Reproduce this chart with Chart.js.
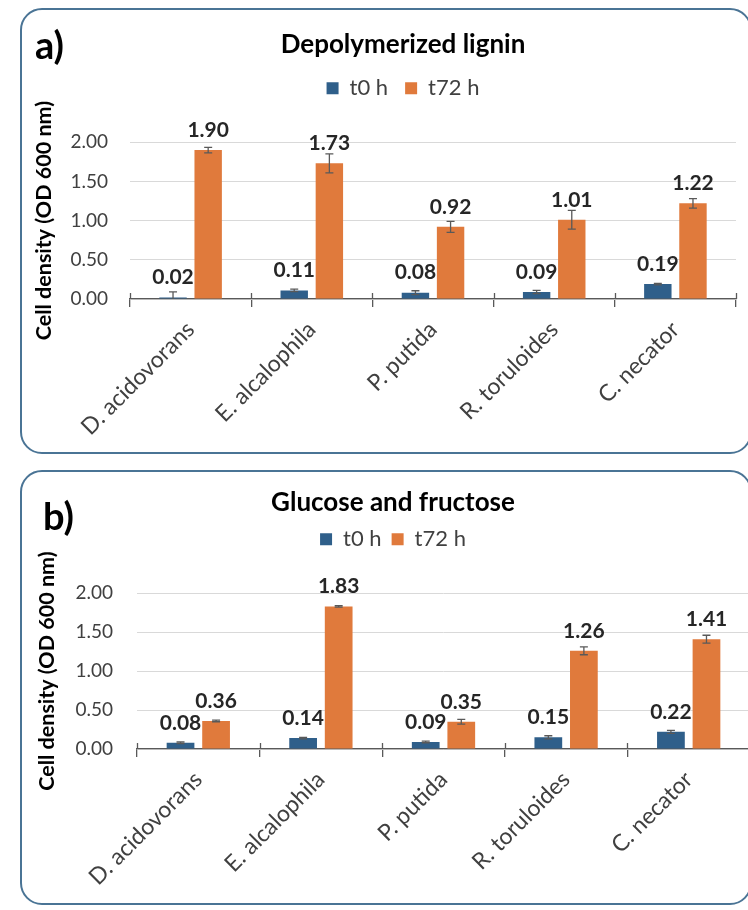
<!DOCTYPE html>
<html>
<head>
<meta charset="utf-8">
<script src="https://cdn.jsdelivr.net/npm/chart.js@4.4.0/dist/chart.umd.min.js"></script>
<style>
  body { margin: 0; width: 748px; height: 910px; overflow: hidden; background: #fff; font-family: Lato, sans-serif; }
  .panel { position: absolute; left: 20px; width: 732px; box-sizing: border-box; border: 2px solid #4a7495; border-radius: 22px; overflow: hidden; background: #fff; }
  #panel-a { top: 8px; height: 446px; }
  #panel-b { top: 470px; height: 435px; }
  .tag { position: absolute; font: bold 38px Lato, sans-serif; color: #000; line-height: 1; }
  canvas { position: absolute; left: 0; top: 0; }
</style>
</head>
<body>
<div class="panel" id="panel-a">
  <canvas id="chart-a" width="762" height="442"></canvas>
  <div class="tag" style="left:13px;top:15px">a)</div>
</div>
<div class="panel" id="panel-b">
  <canvas id="chart-b" width="742" height="431"></canvas>
  <div class="tag" style="left:21px;top:24px">b)</div>
</div>
<script>
// Cell density (OD 600 nm)
const species = ['D. acidovorans', 'E. alcalophila', 'P. putida', 'R. toruloides', 'C. necator'];
const seriesNames = ['t0 h', 't72 h'];
const ligninT0 = [0.02, 0.11, 0.08, 0.09, 0.19];
const ligninT72 = [1.90, 1.73, 0.92, 1.01, 1.22];
const ligninErrT0 = [0.07, 0.015, 0.025, 0.02, 0.01];
const ligninErrT72 = [0.035, 0.12, 0.07, 0.12, 0.06];
const sugarT0 = [0.08, 0.14, 0.09, 0.15, 0.22];
const sugarT72 = [0.36, 1.83, 0.35, 1.26, 1.41];
const sugarErrT0 = [0.01, 0.01, 0.01, 0.02, 0.02];
const sugarErrT72 = [0.01, 0.01, 0.03, 0.05, 0.05];
const yTicks = [0, 0.5, 1.0, 1.5, 2.0];

const BLUE = '#2f5f8a';
const ORANGE = '#e07a3c';
const AXIS = '#595959';

Chart.defaults.font.family = 'Lato';

// error bars, value labels and the half of each category tick above the axis
const barExtras = {
    id: 'barExtras',
    afterDatasetsDraw(chart, args, opts) {
        const { ctx, chartArea, scales: { x, y } } = chart;
        ctx.save();
        ctx.strokeStyle = AXIS;
        ctx.lineWidth = 1.3;
        for (let i = 0; i <= chart.data.labels.length; i++) {
            const px = Math.round(x.getPixelForValue(i - 0.5)) + 0.5;
            ctx.beginPath();
            ctx.moveTo(px, chartArea.bottom - 6);
            ctx.lineTo(px, chartArea.bottom);
            ctx.stroke();
        }
        chart.data.datasets.forEach((ds, d) => {
            const meta = chart.getDatasetMeta(d);
            meta.data.forEach((bar, i) => {
                const v = ds.data[i];
                const e = opts.errors[d][i];
                const yTop = y.getPixelForValue(v + e);
                const yBot = y.getPixelForValue(Math.max(0, v - e));
                ctx.strokeStyle = AXIS;
                ctx.lineWidth = 1.3;
                ctx.beginPath();
                ctx.moveTo(bar.x, yTop);
                ctx.lineTo(bar.x, yBot);
                ctx.moveTo(bar.x - 4, yTop);
                ctx.lineTo(bar.x + 4, yTop);
                if (v - e > 0) {
                    ctx.moveTo(bar.x - 4, yBot);
                    ctx.lineTo(bar.x + 4, yBot);
                }
                ctx.stroke();
                ctx.fillStyle = '#262626';
                ctx.font = 'bold 21px Lato';
                ctx.textAlign = 'center';
                ctx.textBaseline = 'middle';
                ctx.fillText(v.toFixed(2), bar.x, bar.y - 20);
            });
        });
        ctx.restore();
    }
};

function legendHeight(h) {
    return {
        id: 'legendHeight',
        beforeInit(chart) {
            const fit = chart.legend.fit;
            chart.legend.fit = function () {
                fit.call(this);
                this.height = h;
            };
        }
    };
}

function makeChart(id, title, t0, t72, err0, err72, lay) {
    return new Chart(document.getElementById(id), {
        type: 'bar',
        data: {
            labels: species,
            datasets: [
                { label: seriesNames[0], data: t0, backgroundColor: BLUE },
                { label: seriesNames[1], data: t72, backgroundColor: ORANGE },
            ],
        },
        options: {
            responsive: false,
            animation: false,
            devicePixelRatio: 1,
            datasets: { bar: { categoryPercentage: 0.58, barPercentage: 0.78 } },
            plugins: {
                title: {
                    display: true,
                    text: title,
                    color: '#000',
                    font: { size: 26, weight: 'bold' },
                    padding: { top: lay.titleTop, bottom: 0 },
                },
                legend: {
                    labels: {
                        color: '#404040',
                        font: { size: 22 },
                        boxWidth: 12,
                        boxHeight: 12,
                        padding: lay.legendPad,
                    },
                },
                tooltip: { enabled: false },
                barExtras: { errors: [err0, err72] },
            },
            scales: {
                x: {
                    grid: { display: true, drawOnChartArea: false, offset: true, tickLength: 8, color: AXIS, lineWidth: 1.3 },
                    border: { display: true, color: AXIS, width: 1.3 },
                    ticks: { color: '#404040', font: { size: 23 }, maxRotation: 45, minRotation: 45, padding: 9 },
                    afterFit: s => { s.height = lay.xHeight; },
                },
                y: {
                    min: 0,
                    max: 2,
                    afterBuildTicks: s => { s.ticks = yTicks.map(v => ({ value: v })); },
                    grid: { color: '#d9d9d9', drawTicks: false },
                    border: { display: false },
                    ticks: { color: '#404040', font: { size: 19 }, padding: lay.tickPad, callback: v => v.toFixed(2) },
                    title: {
                        display: true,
                        text: 'Cell density (OD 600 nm)',
                        color: '#000',
                        font: { size: 21.5, weight: 'bold' },
                        padding: { top: lay.yTitlePad, bottom: 0 },
                    },
                    afterFit: s => { s.width = lay.yWidth; },
                },
                // empty strip on the right so the title and legend centre where they do in the figure
                spacer: {
                    type: 'linear',
                    position: 'right',
                    grid: { display: false },
                    border: { display: false },
                    ticks: { display: false },
                    afterFit: s => { s.width = lay.right; },
                },
            },
        },
        plugins: [barExtras, legendHeight(lay.legendH)],
    });
}

makeChart('chart-a', 'Depolymerized lignin', ligninT0, ligninT72, ligninErrT0, ligninErrT72,
    { right: 48, titleTop: 19, legendPad: 17, legendH: 82, xHeight: 153, yWidth: 108, tickPad: 22, yTitlePad: 9 });
makeChart('chart-b', 'Glucose and fructose', sugarT0, sugarT72, sugarErrT0, sugarErrT72,
    { right: 14, titleTop: 15, legendPad: 10, legendH: 75, xHeight: 154, yWidth: 115, tickPad: 24, yTitlePad: 12 });
</script>
</body>
</html>
